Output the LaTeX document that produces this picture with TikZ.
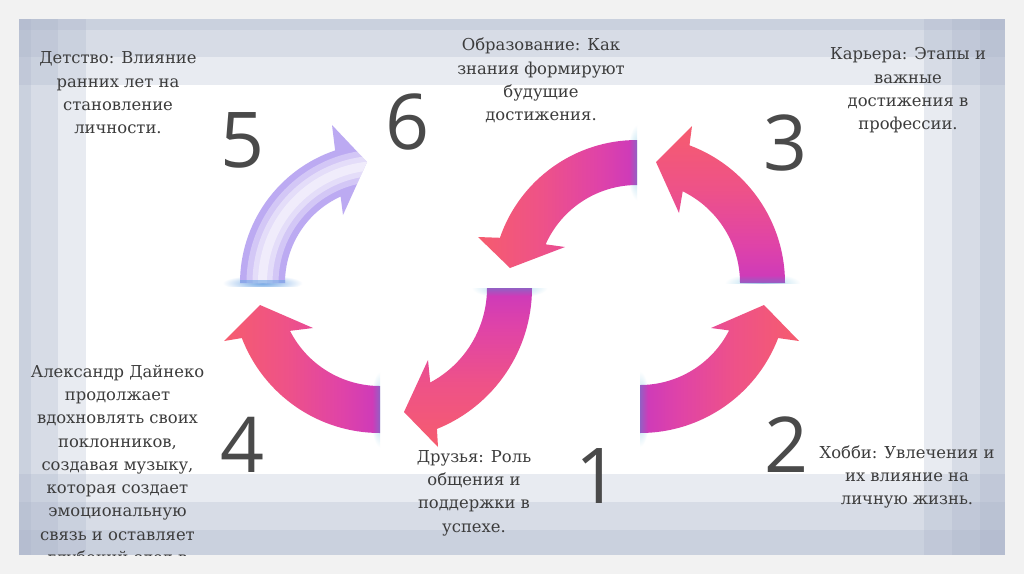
\documentclass[tikz,border=0pt]{standalone}
\usepackage{fontspec}
\newfontfamily\serifru{DejaVu Serif}
\newfontfamily\numfont{Open Sans}
\usetikzlibrary{calc}
\definecolor{bg}{HTML}{F2F2F2}
\definecolor{bandc}{HTML}{A7B1C8}
\definecolor{txt}{HTML}{3C3C3C}
\definecolor{numc}{HTML}{4A4A4A}
\definecolor{tipc}{HTML}{F65C6E}
\definecolor{midc}{HTML}{EE5288}
\definecolor{magc}{HTML}{DF43A8}
\definecolor{deepc}{HTML}{CF3BB8}
\definecolor{basec}{HTML}{9260C4}
\definecolor{glowc}{HTML}{A9D8EC}
\definecolor{glowb}{HTML}{6FA6E4}
\definecolor{lavc}{HTML}{BCAAF2}
\pgfdeclarehorizontalshading{arrgrad}{100bp}{color(0bp)=(tipc); color(25bp)=(tipc); color(45bp)=(midc); color(63bp)=(magc); color(72.5bp)=(deepc); color(75bp)=(basec); color(100bp)=(basec)}
\pgfdeclareradialshading{glow}{\pgfpoint{0bp}{0bp}}{color(0bp)=(glowc); color(10bp)=(glowc!70!white); color(25bp)=(white); color(50bp)=(white)}
\pgfdeclareradialshading{glowblue}{\pgfpoint{0bp}{0bp}}{color(0bp)=(glowb); color(10bp)=(glowb!60!white); color(25bp)=(white); color(50bp)=(white)}
\tikzset{
  band/.style={fill=bandc, fill opacity=0.25, draw=none},
  arrowbody/.style={shading=arrgrad, draw=none},
  glowfill/.style={shading=glow, draw=none},
  txtnode/.style={font=\serifru\fontsize{16.4}{23.3}\selectfont, text=txt, align=center, inner sep=0pt},
  numnode/.style={font=\numfont\fontsize{77}{77}\selectfont, text=numc, inner sep=0pt}
}
\newcommand\arrowfivepath{($(C5)+(-180:140)$) arc[start angle=-180, end angle=-108.7, radius=140]
  -- (a5o) -- (a5t) -- (a5i) -- ($(C5)+(-114.5:95)$) arc[start angle=-114.5, end angle=-180, radius=95] -- cycle}
\begin{document}
\begin{tikzpicture}[x=1pt,y=-1pt]
\useasboundingbox (0,0) rectangle (1024,574);
% background and frame
\fill[bg] (0,0) rectangle (1024,574);
\fill[white] (19,19) rectangle (1005,555);
\path[band] (19,19) rectangle (1005,85);
\path[band] (19,19) rectangle (1005,57);
\path[band] (19,19) rectangle (1005,30);
\path[band] (19,474) rectangle (1005,555);
\path[band] (19,502) rectangle (1005,555);
\path[band] (19,530) rectangle (1005,555);
\path[band] (19,19) rectangle (86,555);
\path[band] (19,19) rectangle (58,555);
\path[band] (19,19) rectangle (31,555);
\path[band] (924,19) rectangle (1005,555);
\path[band] (952,19) rectangle (1005,555);
\path[band] (980,19) rectangle (1005,555);

% centres
\coordinate (C6) at (637,285);
\coordinate (C3) at (638,283);
\coordinate (C2) at (640,285);
\coordinate (C1) at (380,288);
\coordinate (C4) at (380,285);
\coordinate (C5) at (380,283);

% glows
\begin{scope}\clip (590,100) rectangle (637,230);
\path[glowfill] (637,162.5) ellipse [x radius=10, y radius=38];\end{scope}
\begin{scope}\clip (700,240) rectangle (830,283);
\path[glowfill] (762.5,283) ellipse [x radius=38, y radius=10];\end{scope}
\begin{scope}\clip (640,340) rectangle (690,480);
\path[glowfill] (640,409) ellipse [x radius=10, y radius=38];\end{scope}
\begin{scope}\clip (440,288) rectangle (580,330);
\path[glowfill] (509.5,288) ellipse [x radius=38, y radius=10];\end{scope}
\begin{scope}\clip (330,340) rectangle (380,480);
\path[glowfill] (380,409.5) ellipse [x radius=10, y radius=38];\end{scope}
\begin{scope}\clip (200,240) rectangle (330,286);
\path[shading=glowblue] (262.5,283) ellipse [x radius=40, y radius=8];\end{scope}

% arrow 6 (top centre, pointing down-left)
\coordinate (a6o) at (478,237); \coordinate (a6t) at (510,268); \coordinate (a6i) at (565,247);
\path[arrowbody, shading angle=0] ($(C6)+(-90:145)$) arc[start angle=-90, end angle=-161, radius=145]
  -- (a6o) -- (a6t) -- (a6i) -- ($(C6)+(-156:100)$) arc[start angle=-156, end angle=-90, radius=100] -- cycle;
% arrow 3 (right top, pointing up-left)
\coordinate (a3o) at (692,126); \coordinate (a3t) at (656,162); \coordinate (a3i) at (679,213);
\path[arrowbody, shading angle=270] ($(C3)+(0:147)$) arc[start angle=0, end angle=-69.5, radius=147]
  -- (a3o) -- (a3t) -- (a3i) -- ($(C3)+(-64:102)$) arc[start angle=-64, end angle=0, radius=102] -- cycle;
% arrow 2 (right bottom, pointing up)
\coordinate (a2o) at (799,341); \coordinate (a2t) at (764,305); \coordinate (a2i) at (711,328);
\path[arrowbody, shading angle=180] ($(C2)+(90:148)$) arc[start angle=90, end angle=21, radius=148]
  -- (a2o) -- (a2t) -- (a2i) -- ($(C2)+(27:100)$) arc[start angle=27, end angle=90, radius=100] -- cycle;
% arrow 1 (centre bottom, pointing left)
\coordinate (a1o) at (438,447); \coordinate (a1t) at (404,412); \coordinate (a1i) at (428,360);
\path[arrowbody, shading angle=90] ($(C1)+(0:152)$) arc[start angle=0, end angle=68, radius=152]
  -- (a1o) -- (a1t) -- (a1i) -- ($(C1)+(62:107)$) arc[start angle=62, end angle=0, radius=107] -- cycle;
% arrow 4 (left bottom, pointing up)
\coordinate (a4o) at (224,341); \coordinate (a4t) at (260,305); \coordinate (a4i) at (313,328);
\path[arrowbody, shading angle=0] ($(C4)+(90:148)$) arc[start angle=90, end angle=159, radius=148]
  -- (a4o) -- (a4t) -- (a4i) -- ($(C4)+(153:101)$) arc[start angle=153, end angle=90, radius=101] -- cycle;
% arrow 5 (left top, lavender, pointing right)
\coordinate (a5o) at (332,125); \coordinate (a5t) at (367,162); \coordinate (a5i) at (343,215);
\fill[lavc] \arrowfivepath;
\begin{scope}
\clip \arrowfivepath;
\draw[white, opacity=0.35, line width=32] ($(C5)+(-182:117.5)$) arc[start angle=-182, end angle=-95, radius=117.5];
\draw[white, opacity=0.4, line width=20] ($(C5)+(-182:117.5)$) arc[start angle=-182, end angle=-95, radius=117.5];
\draw[white, opacity=0.45, line width=9] ($(C5)+(-182:117.5)$) arc[start angle=-182, end angle=-95, radius=117.5];
\fill[glowb, opacity=0.6] (235,280) rectangle (290,284);
\end{scope}

% numbers
\node[numnode] (n5) at (243,140) {5};
\node[numnode] (n6) at (408,122) {6};
\node[numnode] (n3) at (786,143) {3};
\node[numnode] (n4) at (243,445) {4};
\node[numnode] (n1) at (598,476) {1};
\node[numnode] (n2) at (787,445) {2};

% texts
\node[txtnode] (t5) at (118,93) {Детство: Влияние\\ранних лет на\\становление\\личности.};
\node[txtnode] (t6) at (541,80.5) {Образование: Как\\знания формируют\\будущие\\достижения.};
\node[txtnode] (t3) at (908,90.5) {Карьера: Этапы и\\важные\\достижения в\\профессии.};
\node[txtnode] (t1) at (474,493) {Друзья: Роль\\общения и\\поддержки в\\успехе.};
\node[txtnode] (t2) at (907,477) {Хобби: Увлечения и\\их влияние на\\личную жизнь.};
\begin{scope}
\clip (0,0) rectangle (1024,555);
\node[txtnode] (t4) at (117.5,466) {Александр Дайнеко\\продолжает\\вдохновлять своих\\поклонников,\\создавая музыку,\\которая создает\\эмоциональную\\связь и оставляет\\глубокий след в};
\end{scope}
\end{tikzpicture}
\end{document}
